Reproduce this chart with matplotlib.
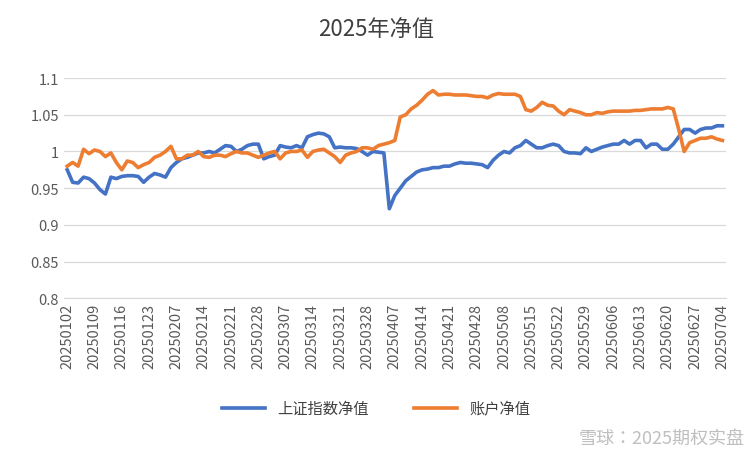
import pandas as pd
import matplotlib.pyplot as plt
from matplotlib import font_manager as fm

# pick up a CJK font file directly so Chinese text renders
cjk = [f for f in fm.findSystemFonts() if "CJK" in f or "Noto Sans SC" in f]
for f in cjk:
    try:
        fm.fontManager.addfont(f)
    except Exception:
        pass
names = [fm.FontProperties(fname=f).get_name() for f in cjk]
cjk_name = next((n for n in names if "SC" in n), names[0] if names else "DejaVu Sans")
plt.rcParams["font.family"] = [cjk_name, "DejaVu Sans"]

# trading days 2025-01-02 .. 2025-07-04 (SSE calendar)
holidays = ["2025-01-01", "2025-01-28", "2025-01-29", "2025-01-30", "2025-01-31",
            "2025-02-03", "2025-02-04", "2025-04-04", "2025-05-01", "2025-05-02",
            "2025-05-05", "2025-06-02"]
dates = [d.strftime("%Y%m%d") for d in pd.bdate_range("2025-01-02", "2025-07-04")
         if d.strftime("%Y-%m-%d") not in holidays]

index_nav = [
    0.975, 0.958, 0.957, 0.965, 0.963, 0.957, 0.948, 0.942, 0.965, 0.963,
    0.966, 0.967, 0.967, 0.966, 0.958, 0.965, 0.970, 0.968, 0.965, 0.978,
    0.985, 0.990, 0.992, 0.995, 0.998, 0.998, 1.000, 0.998, 1.003, 1.008,
    1.007, 1.000, 1.003, 1.008, 1.010, 1.010, 0.990, 0.993, 0.995, 1.008,
    1.006, 1.005, 1.008, 1.005, 1.020, 1.023, 1.025, 1.024, 1.020, 1.005,
    1.006, 1.005, 1.005, 1.004, 1.000, 0.995, 1.000, 0.999, 0.998, 0.922,
    0.940, 0.950, 0.960, 0.966, 0.972, 0.975, 0.976, 0.978, 0.978, 0.980,
    0.980, 0.983, 0.985, 0.984, 0.984, 0.983, 0.982, 0.978, 0.988, 0.995,
    1.000, 0.998, 1.005, 1.008, 1.015, 1.010, 1.005, 1.005, 1.008, 1.010,
    1.008, 1.000, 0.998, 0.998, 0.997, 1.005, 1.000, 1.003, 1.006, 1.008,
    1.010, 1.010, 1.015, 1.010, 1.015, 1.015, 1.005, 1.010, 1.010, 1.003,
    1.003, 1.010, 1.020, 1.030, 1.030, 1.025, 1.030, 1.032, 1.032, 1.035,
    1.035,
]

account_nav = [
    0.980, 0.985, 0.980, 1.003, 0.997, 1.002, 1.000, 0.993, 0.998, 0.985,
    0.975, 0.987, 0.985, 0.978, 0.982, 0.985, 0.992, 0.995, 1.000, 1.007,
    0.990, 0.990, 0.995, 0.995, 1.000, 0.993, 0.992, 0.995, 0.995, 0.993,
    0.997, 1.000, 0.998, 0.998, 0.995, 0.992, 0.995, 0.998, 1.000, 0.990,
    0.998, 1.000, 1.000, 1.002, 0.992, 1.000, 1.002, 1.003, 0.998, 0.993,
    0.985, 0.995, 0.998, 1.000, 1.005, 1.005, 1.003, 1.008, 1.010, 1.012,
    1.015, 1.047, 1.050, 1.058, 1.063, 1.070, 1.078, 1.083, 1.077, 1.078,
    1.078, 1.077, 1.077, 1.077, 1.076, 1.075, 1.075, 1.073, 1.077, 1.079,
    1.078, 1.078, 1.078, 1.075, 1.057, 1.055, 1.060, 1.067, 1.063, 1.062,
    1.055, 1.050, 1.057, 1.055, 1.053, 1.050, 1.050, 1.053, 1.052, 1.054,
    1.055, 1.055, 1.055, 1.055, 1.056, 1.056, 1.057, 1.058, 1.058, 1.058,
    1.060, 1.058, 1.030, 1.000, 1.012, 1.015, 1.018, 1.018, 1.020, 1.017,
    1.015,
]

fig = plt.figure(figsize=(7.52, 4.52), dpi=100)
ax = fig.add_axes([0.085, 0.338, 0.88, 0.487])
x = range(len(dates))
ax.plot(x, index_nav, color="#4472C4", lw=2.6, label="上证指数净值")
ax.plot(x, account_nav, color="#ED7D31", lw=2.6, label="账户净值")

ax.set_ylim(0.8, 1.1)
ax.set_yticks([0.8, 0.85, 0.9, 0.95, 1.0, 1.05, 1.1])
ax.set_yticklabels(["0.8", "0.85", "0.9", "0.95", "1", "1.05", "1.1"])
ax.set_xlim(-0.6, len(dates) - 0.4)
ax.set_xticks(list(x)[::5])
ax.set_xticklabels(dates[::5], rotation=90)
ax.tick_params(length=0, labelsize=10.5, colors="#595959")
ax.grid(axis="y", color="#D9D9D9", lw=0.9)
for s in ["top", "right", "left"]:
    ax.spines[s].set_visible(False)
ax.spines["bottom"].set_color("#D9D9D9")

fig.text(0.5, 0.92, "2025年净值", ha="center", fontsize=16, color="#404040")
fig.legend(loc="lower center", ncol=2, frameon=False, fontsize=11,
           bbox_to_anchor=(0.5, 0.045), handlelength=2.8, columnspacing=3,
           labelcolor="#404040")
fig.text(0.99, 0.01, "雪球：2025期权实盘", ha="right", va="bottom",
         fontsize=13, color="#BFBFBF")

fig.savefig("out.png", dpi=100)
